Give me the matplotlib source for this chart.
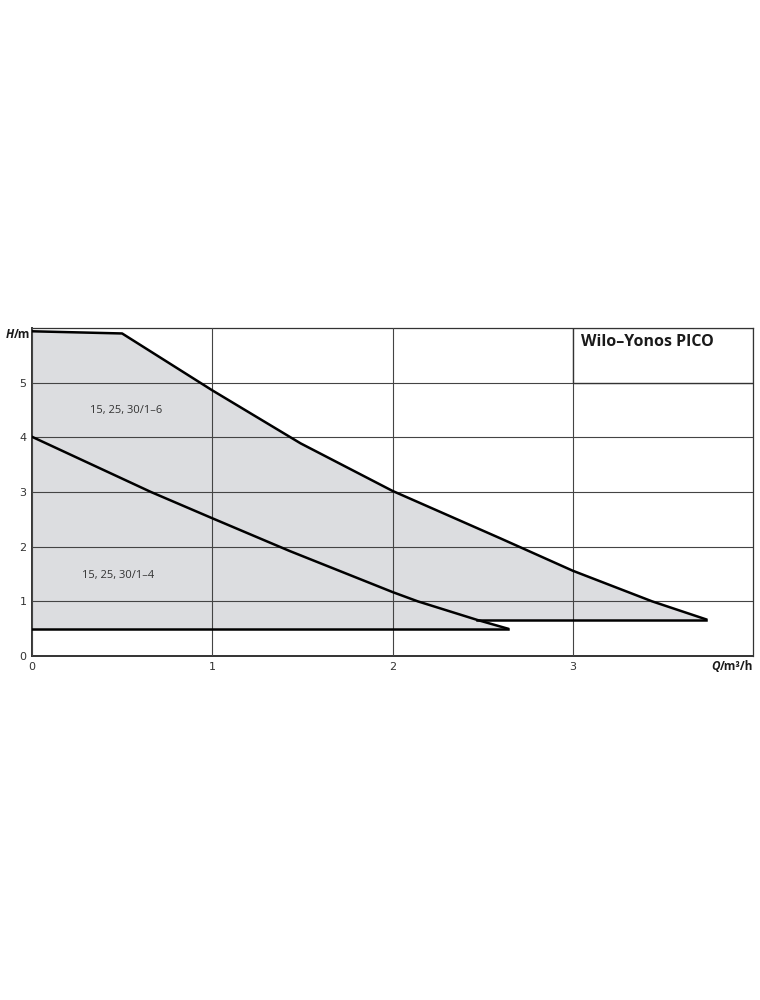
import matplotlib
matplotlib.use("Agg")
import matplotlib.pyplot as plt
from matplotlib.patches import Rectangle

# pump curves (Q in m3/h, H in m)
q_16 = [0.0, 0.5, 1.0, 1.49, 2.0, 2.6, 3.0, 3.44, 3.74]
h_16 = [5.94, 5.90, 4.86, 3.89, 3.02, 2.15, 1.56, 1.0, 0.67]
q_14 = [0.0, 0.66, 1.0, 1.43, 2.0, 2.14, 2.47, 2.64]
h_14 = [4.01, 3.0, 2.52, 1.92, 1.17, 1.0, 0.66, 0.5]
q_min16 = [2.47, 3.74]
h_min16 = [0.66, 0.66]
q_min14 = [0.0, 2.64]
h_min14 = [0.5, 0.5]

labels = ["15, 25, 30/1–6", "15, 25, 30/1–4"]
label_pos = [(0.52, 4.49), (0.48, 1.48)]
title = "Wilo–Yonos PICO"
xticks = [0, 1, 2, 3]
yticks = [0, 1, 2, 3, 4, 5]

grid_c = "#444444"
fig = plt.figure(figsize=(7.6, 10), dpi=100)
ax = fig.add_axes([32/760, 344/1000, 721/760, 328/1000])
ax.set_xlim(0, 4)
ax.set_ylim(0, 6)

# shaded area: upper curve, then the lower tail back to the min line
poly_q = q_16 + [q_14[-2], q_14[-1], 0.0]
poly_h = h_16 + [h_14[-2], h_14[-1], 0.5]
ax.fill(poly_q, poly_h, color="#dcdde0", zorder=1, lw=0)

ax.set_xticks(xticks)
ax.set_yticks(yticks)
ax.grid(True, color=grid_c, lw=0.8, zorder=2)
ax.set_axisbelow(False)

# title box
ax.add_patch(Rectangle((3, 5), 1, 1, facecolor="white", edgecolor="#333333", lw=1.0, zorder=3))
ax.text(3.045, 5.75, title, fontsize=11.5, fontweight="bold", family="Open Sans",
        va="center", ha="left", color="#1a1a1a", zorder=4)

ax.plot(q_16, h_16, color="black", lw=1.8, zorder=5)
ax.plot(q_14, h_14, color="black", lw=1.8, zorder=5)
ax.plot(q_min16, h_min16, color="black", lw=1.8, zorder=5)
ax.plot(q_min14, h_min14, color="black", lw=1.8, zorder=5)

for (x, y), s in zip(label_pos, labels):
    ax.text(x, y, s, fontsize=8, color="#333333", ha="center", va="center", zorder=6,
            family="Open Sans")

for side in ["top", "right"]:
    ax.spines[side].set_color("#333333")
    ax.spines[side].set_linewidth(0.9)
for side in ["left", "bottom"]:
    ax.spines[side].set_color("#333333")
    ax.spines[side].set_linewidth(1.4)

ax.tick_params(length=0, labelsize=8, labelcolor="#333333", pad=4)

# axis unit labels: italic bold symbol, bold unit
th = fig.text(6/760, 1 - 334/1000, "H", fontsize=8.5, fontweight="bold", style="italic",
              family="Open Sans", ha="left", va="center", color="#1a1a1a")
ax.annotate("/m", xy=(1, 0.5), xycoords=th, va="center", ha="left", fontsize=8.5,
            fontweight="bold", family="Open Sans", color="#1a1a1a", annotation_clip=False)

tq = fig.text(711/760, 1 - 667/1000, "Q", fontsize=8.5, fontweight="bold", style="italic",
              family="Open Sans", ha="left", va="center", color="#1a1a1a")
ax.annotate("/m³/h", xy=(1, 0.5), xycoords=tq, va="center", ha="left", fontsize=8.5,
            fontweight="bold", family="Open Sans", color="#1a1a1a", annotation_clip=False)

fig.savefig("out.png", dpi=100, facecolor="white")
